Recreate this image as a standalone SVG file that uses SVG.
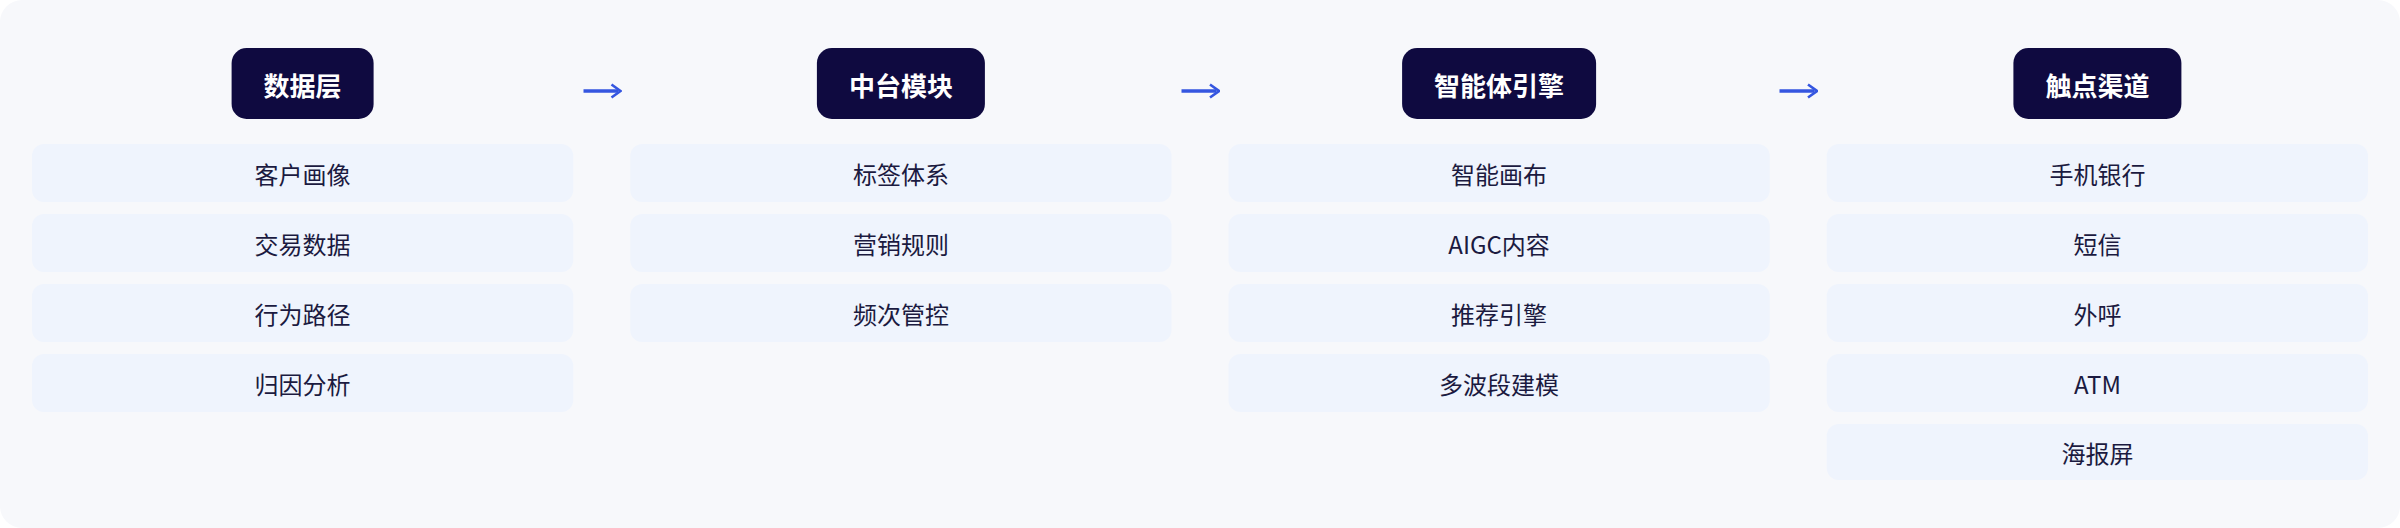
<svg xmlns="http://www.w3.org/2000/svg" width="2400" height="528" viewBox="0 0 2400 528">
<defs>
<style>
.hdr{fill:#0f0a40}
.hdr-t{fill:#ffffff;font-family:"Noto Sans CJK SC","Noto Sans",sans-serif;font-size:26px;font-weight:700;text-anchor:middle;dominant-baseline:central}
.item{fill:#eff4fd}
.item-t{fill:#1b1a40;font-family:"Noto Sans CJK SC","Noto Sans",sans-serif;font-size:24px;text-anchor:middle;dominant-baseline:central}
.conn{stroke:#3556e0;stroke-width:3.5;fill:none}
</style>
<marker id="ah" viewBox="0 0 12 16" refX="8.5" refY="8" markerWidth="12" markerHeight="16" markerUnits="userSpaceOnUse" orient="auto">
<path d="M2,1.5 L11,8 L2,14.5" fill="none" stroke="#3556e0" stroke-width="2.6" stroke-linejoin="miter"/>
</marker>
</defs>
<rect x="0" y="0" width="2400" height="528" fill="#ffffff"/>
<rect x="0" y="0" width="2400" height="528" rx="22" fill="#f7f8fb"/>

<g id="col-data">
<rect class="hdr" x="231.6" y="48" width="142" height="71" rx="15"/>
<text class="hdr-t" x="302.6" y="84.5">数据层</text>
<g id="data-1"><rect class="item" x="32" y="144" width="541.25" height="58" rx="12"/><text class="item-t" x="302.6" y="173.5">客户画像</text></g>
<g id="data-2"><rect class="item" x="32" y="214" width="541.25" height="58" rx="12"/><text class="item-t" x="302.6" y="243.5">交易数据</text></g>
<g id="data-3"><rect class="item" x="32" y="284" width="541.25" height="58" rx="12"/><text class="item-t" x="302.6" y="313.5">行为路径</text></g>
<g id="data-4"><rect class="item" x="32" y="354" width="541.25" height="58" rx="12"/><text class="item-t" x="302.6" y="383.5">归因分析</text></g>
</g>

<g id="col-platform">
<rect class="hdr" x="816.9" y="48" width="168" height="71" rx="15"/>
<text class="hdr-t" x="900.9" y="84.5">中台模块</text>
<g id="plat-1"><rect class="item" x="630.25" y="144" width="541.25" height="58" rx="12"/><text class="item-t" x="900.9" y="173.5">标签体系</text></g>
<g id="plat-2"><rect class="item" x="630.25" y="214" width="541.25" height="58" rx="12"/><text class="item-t" x="900.9" y="243.5">营销规则</text></g>
<g id="plat-3"><rect class="item" x="630.25" y="284" width="541.25" height="58" rx="12"/><text class="item-t" x="900.9" y="313.5">频次管控</text></g>
</g>

<g id="col-agent">
<rect class="hdr" x="1402.1" y="48" width="194" height="71" rx="15"/>
<text class="hdr-t" x="1499.1" y="84.5">智能体引擎</text>
<g id="agent-1"><rect class="item" x="1228.5" y="144" width="541.25" height="58" rx="12"/><text class="item-t" x="1499.1" y="173.5">智能画布</text></g>
<g id="agent-2"><rect class="item" x="1228.5" y="214" width="541.25" height="58" rx="12"/><text class="item-t" x="1499.1" y="243.5">AIGC内容</text></g>
<g id="agent-3"><rect class="item" x="1228.5" y="284" width="541.25" height="58" rx="12"/><text class="item-t" x="1499.1" y="313.5">推荐引擎</text></g>
<g id="agent-4"><rect class="item" x="1228.5" y="354" width="541.25" height="58" rx="12"/><text class="item-t" x="1499.1" y="383.5">多波段建模</text></g>
</g>

<g id="col-channel">
<rect class="hdr" x="2013.4" y="48" width="168" height="71" rx="15"/>
<text class="hdr-t" x="2097.4" y="84.5">触点渠道</text>
<g id="chan-1"><rect class="item" x="1826.75" y="144" width="541.25" height="58" rx="12"/><text class="item-t" x="2097.4" y="173.5">手机银行</text></g>
<g id="chan-2"><rect class="item" x="1826.75" y="214" width="541.25" height="58" rx="12"/><text class="item-t" x="2097.4" y="243.5">短信</text></g>
<g id="chan-3"><rect class="item" x="1826.75" y="284" width="541.25" height="58" rx="12"/><text class="item-t" x="2097.4" y="313.5">外呼</text></g>
<g id="chan-4"><rect class="item" x="1826.75" y="354" width="541.25" height="58" rx="12"/><text class="item-t" x="2097.4" y="383.5">ATM</text></g>
<g id="chan-5"><rect class="item" x="1826.75" y="424" width="541.25" height="56" rx="12"/><text class="item-t" x="2097.4" y="452.5">海报屏</text></g>
</g>

<g id="connectors">
<line class="conn" x1="583.5" y1="91" x2="618" y2="91" marker-end="url(#ah)"/>
<line class="conn" x1="1181.5" y1="91" x2="1216.5" y2="91" marker-end="url(#ah)"/>
<line class="conn" x1="1779.5" y1="91" x2="1814.5" y2="91" marker-end="url(#ah)"/>
</g>
</svg>
